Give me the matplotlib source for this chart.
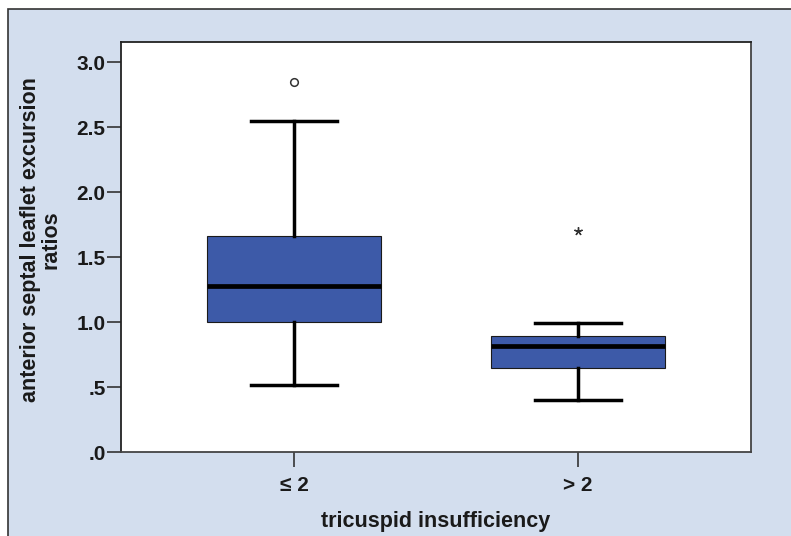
import matplotlib
matplotlib.use("Agg")
import matplotlib.pyplot as plt
from matplotlib.patches import Rectangle

categories = ["\u2264 2", "> 2"]
q1 = [1.00, 0.65]
median = [1.28, 0.815]
q3 = [1.66, 0.89]
whislo = [0.515, 0.40]
whishi = [2.55, 0.99]
outliers_circle = [2.85, None]
outliers_star = [None, 1.70]
yticks = [0.0, 0.5, 1.0, 1.5, 2.0, 2.5, 3.0]
yticklabels = [".0", ".5", "1.0", "1.5", "2.0", "2.5", "3.0"]

plt.rcParams['font.family'] = ['Liberation Sans', 'DejaVu Sans']

fig = plt.figure(figsize=(7.91, 5.36), dpi=100)
fig.patch.set_facecolor('white')
W, H = 791, 536
bg = Rectangle((8 / W, -0.01), 1 - 8 / W + 0.02, 1 - 9 / H + 0.01, transform=fig.transFigure,
               facecolor='#d3deee', edgecolor='#333333', linewidth=1.2, zorder=-10)
fig.patches.append(bg)

ax = fig.add_axes([121 / W, 1 - 452 / H, (751 - 121) / W, (452 - 42) / H])
ax.set_facecolor('white')

stats = []
for i in range(2):
    stats.append(dict(med=median[i], q1=q1[i], q3=q3[i], whislo=whislo[i], whishi=whishi[i], fliers=[]))

ax.bxp(stats, positions=[1, 2], widths=0.61, patch_artist=True, showfliers=False,
       boxprops=dict(facecolor='#3d5aa8', edgecolor='#1a1a1a', linewidth=0.8),
       medianprops=dict(color='black', linewidth=3.4),
       whiskerprops=dict(color='black', linewidth=2.5),
       capprops=dict(color='black', linewidth=2.5),
       capwidths=0.30)

for i, v in enumerate(outliers_circle):
    if v is not None:
        ax.plot(i + 1, v, marker='o', markersize=5.5, markerfacecolor='white',
                markeredgecolor='#333333', markeredgewidth=1.1, linestyle='none')
for i, v in enumerate(outliers_star):
    if v is not None:
        ax.plot(i + 1, v, marker=(5, 2, 0), markersize=6, color='#333333',
                markeredgewidth=1.0, linestyle='none')

ax.set_xlim(0.391, 2.609)
ax.set_ylim(0, 3.155)
ax.set_yticks(yticks)
ax.set_yticklabels(yticklabels, fontsize=15, fontweight='bold', color='#1a1a1a')
ax.set_xticks([1, 2])
ax.set_xticklabels(categories, fontsize=15, fontweight='bold', color='#1a1a1a')
ax.tick_params(axis='y', direction='out', length=10, width=1.2, color='#333333', pad=1)
ax.tick_params(axis='x', direction='out', length=11, width=1.2, color='#333333', pad=6)
for s in ['top', 'left']:
    ax.spines[s].set_color('#222222')
    ax.spines[s].set_linewidth(1.3)
for s in ['right', 'bottom']:
    ax.spines[s].set_color('#444444')
    ax.spines[s].set_linewidth(1.3)

ax.set_xlabel("tricuspid insufficiency", fontsize=15.5, fontweight='bold', color='#1a1a1a', labelpad=12)
ax.set_ylabel("anterior septal leaflet excursion\nratios", fontsize=15.5, fontweight='bold',
              color='#1a1a1a', linespacing=0.95)
ax.yaxis.set_label_coords(-(121 - 61) / (751 - 121), (452 - 240) / (452 - 42))

fig.savefig("out.png", dpi=100, facecolor=fig.get_facecolor())
